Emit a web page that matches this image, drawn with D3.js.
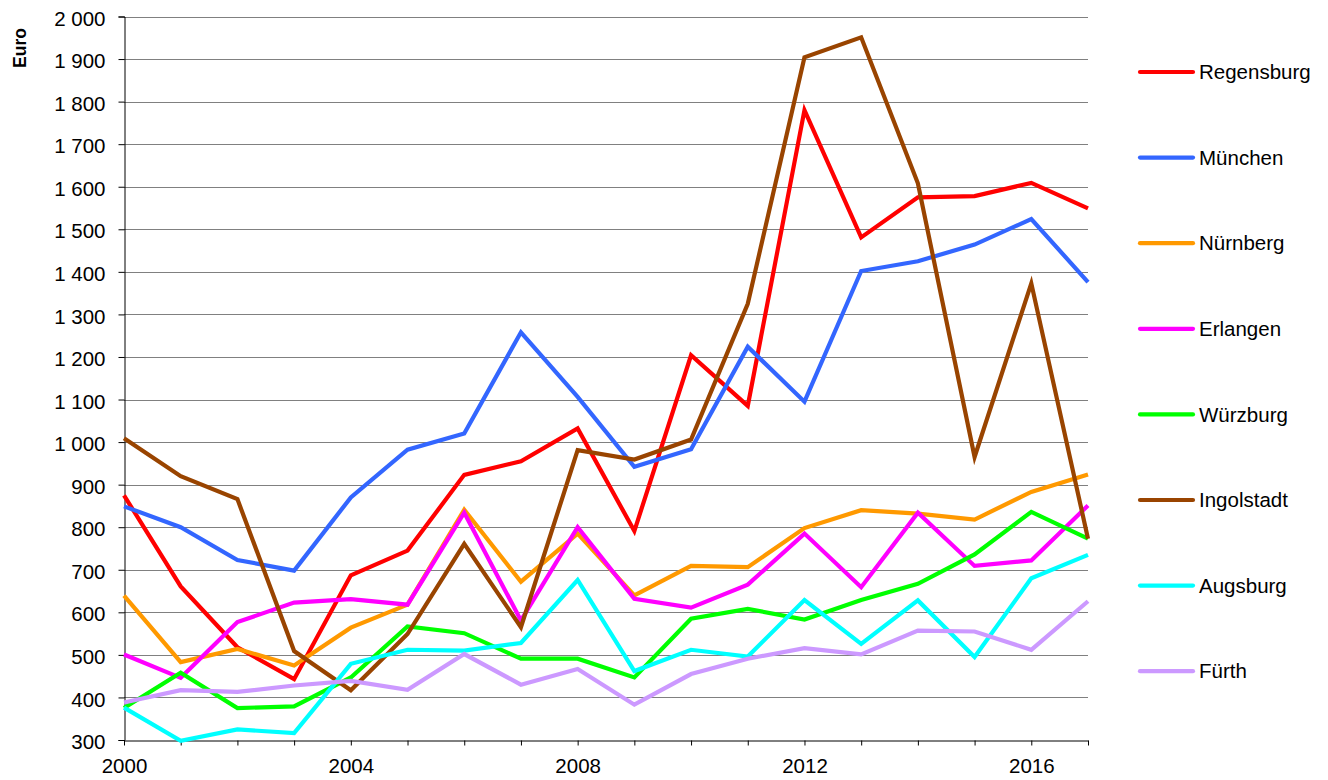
<!DOCTYPE html>
<html>
<head>
<meta charset="utf-8">
<script src="https://cdn.jsdelivr.net/npm/d3@7/dist/d3.min.js"></script>
<style>
  html, body { margin: 0; padding: 0; background: #fff; }
  svg { display: block; font-family: "Liberation Sans", Arial, sans-serif; }
</style>
</head>
<body>
<svg id="chart" width="1328" height="780"></svg>
<script>
// Years on the horizontal axis
const years = d3.range(2000, 2018);

// Series: values in Euro per year, 2000–2017
const cities = ["Regensburg", "München", "Nürnberg", "Erlangen", "Würzburg", "Ingolstadt", "Augsburg", "Fürth"];
const colors = ["#ff0000", "#3366ff", "#ff9900", "#ff00ff", "#00ff00", "#994400", "#00ffff", "#cc99ff"];

const regensburg = [875, 661, 518, 443, 687, 745, 923, 955, 1032, 791, 1204, 1085, 1780, 1481, 1575, 1578, 1609, 1549];
const muenchen   = [849, 800, 723, 698, 870, 982, 1020, 1258, 1106, 942, 983, 1224, 1095, 1402, 1425, 1464, 1524, 1376];
const nuernberg  = [639, 483, 514, 475, 564, 618, 841, 672, 785, 640, 709, 706, 798, 840, 832, 818, 883, 924];
const erlangen   = [501, 446, 577, 623, 631, 618, 834, 581, 800, 632, 611, 665, 785, 659, 834, 709, 722, 851];
const wuerzburg  = [375, 458, 375, 379, 447, 567, 551, 491, 491, 447, 585, 608, 583, 629, 667, 736, 836, 773];
const ingolstadt = [1009, 920, 866, 509, 417, 549, 761, 565, 981, 959, 1006, 1325, 1904, 1951, 1608, 965, 1373, 773];
const augsburg   = [376, 298, 325, 316, 479, 512, 510, 528, 676, 462, 512, 496, 629, 526, 628, 495, 680, 735];
const fuerth     = [388, 417, 413, 428, 439, 418, 502, 430, 467, 383, 455, 491, 516, 501, 557, 555, 512, 626];

const seriesValues = [regensburg, muenchen, nuernberg, erlangen, wuerzburg, ingolstadt, augsburg, fuerth];

// Axis ticks
const yTicks = d3.range(300, 2001, 100);
const xLabelYears = [2000, 2004, 2008, 2012, 2016];

const svg = d3.select("#chart");
const plotLeft = 124, plotRight = 1088, plotTop = 16.5, plotBottom = 740;
const fontSize = 20.5;

const x = d3.scaleLinear().domain([2000, 2017]).range([plotLeft, plotRight]);
const y = d3.scaleLinear().domain([300, 2000]).range([plotBottom, plotTop]);

const fmt = v => d3.format(",")(v).replace(/,/g, " ");

// Horizontal gridlines
svg.append("g")
  .selectAll("line")
  .data(yTicks.filter(v => v > 300))
  .join("line")
  .attr("x1", plotLeft).attr("x2", plotRight)
  .attr("y1", d => Math.round(y(d)) + 0.5).attr("y2", d => Math.round(y(d)) + 0.5)
  .attr("stroke", "#808080").attr("stroke-width", 1);

// Y axis
const yAxis = d3.axisLeft(y).tickValues(yTicks).tickSize(6).tickPadding(13).tickFormat(fmt);
const gy = svg.append("g").attr("transform", `translate(${plotLeft + 0.5},0)`).call(yAxis);
gy.select(".domain").attr("stroke", "#000");
gy.selectAll(".tick line").attr("stroke", "#000");
gy.selectAll(".tick text").attr("font-size", fontSize).attr("fill", "#000")
  .attr("dy", "0.42em")
  .attr("font-family", "'Liberation Sans', Arial, sans-serif");

// X axis
const xAxis = d3.axisBottom(x).tickValues(years).tickSizeInner(5).tickSizeOuter(0).tickPadding(13)
  .tickFormat(d => xLabelYears.includes(d) ? String(d) : "");
const gx = svg.append("g").attr("transform", `translate(0,${plotBottom + 0.5})`).call(xAxis);
gx.select(".domain").attr("stroke", "#000");
gx.selectAll(".tick line").attr("stroke", "#000");
gx.selectAll(".tick text").attr("font-size", fontSize).attr("fill", "#000")
  .attr("font-family", "'Liberation Sans', Arial, sans-serif");

// Axis title
svg.append("text")
  .attr("transform", `translate(25.5,48) rotate(-90)`)
  .attr("text-anchor", "middle")
  .attr("font-size", 17.5).attr("font-weight", "bold")
  .text("Euro");

// Lines
const line = d3.line().x((d, i) => x(years[i])).y(d => y(d));
svg.append("g")
  .selectAll("path")
  .data(seriesValues)
  .join("path")
  .attr("d", line)
  .attr("fill", "none")
  .attr("stroke", (d, i) => colors[i])
  .attr("stroke-width", 4.2)
  .attr("stroke-linejoin", "miter")
  .attr("stroke-miterlimit", 4);

// Legend
const legend = svg.append("g")
  .selectAll("g")
  .data(cities)
  .join("g")
  .attr("transform", (d, i) => `translate(1140,${72 + i * 85.6})`);
legend.append("line")
  .attr("x1", 0).attr("x2", 53).attr("y1", 0).attr("y2", 0)
  .attr("stroke", (d, i) => colors[i]).attr("stroke-width", 4.2)
  .attr("stroke-linecap", "round");
legend.append("text")
  .attr("x", 59).attr("y", 0).attr("dy", "0.35em")
  .attr("font-size", fontSize).attr("fill", "#000")
  .text(d => d);
</script>
</body>
</html>
